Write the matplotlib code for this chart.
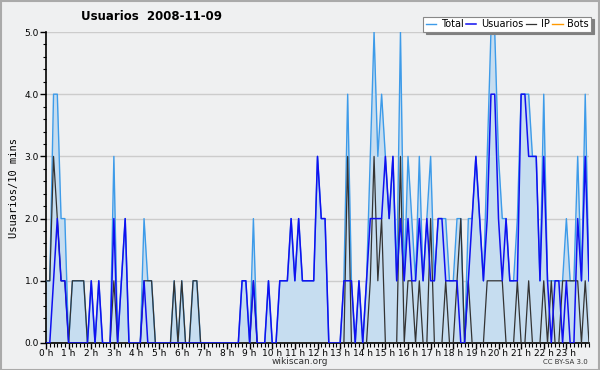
import numpy as np
import matplotlib
matplotlib.use("Agg")
import matplotlib.pyplot as plt
from matplotlib.ticker import MultipleLocator, FixedLocator
from matplotlib.patches import Rectangle

# 10-minute slots, 0h .. 24h
TOTAL = [1, 1, 4, 4, 2, 2, 0, 1, 1, 1,
         1, 0, 1, 0, 1, 0, 0, 0, 3, 0,
         1, 2, 0, 0, 0, 0, 2, 1, 1, 0,
         0, 0, 0, 0, 1, 0, 1, 0, 0, 1,
         1, 0, 0, 0, 0, 0, 0, 0, 0, 0,
         0, 0, 1, 1, 0, 2, 0, 0, 0, 1,
         0, 0, 1, 1, 1, 2, 1, 2, 1, 1,
         1, 1, 3, 2, 2, 0, 0, 0, 0, 1,
         4, 1, 0, 1, 0, 1, 3, 5, 3, 4,
         3, 2, 3, 1, 5, 1, 3, 2, 1, 3,
         1, 2, 3, 1, 2, 2, 2, 1, 1, 2,
         2, 0, 2, 2, 3, 2, 1, 3, 5, 5,
         3, 2, 2, 1, 1, 2, 4, 4, 4, 3,
         3, 1, 4, 1, 1, 1, 1, 1, 2, 1,
         1, 3, 1, 4, 1]
USUARIOS = [0, 0, 1, 2, 1, 1, 0, 0, 0, 0,
            0, 0, 1, 0, 1, 0, 0, 0, 2, 0,
            1, 2, 0, 0, 0, 0, 1, 0, 0, 0,
            0, 0, 0, 0, 0, 0, 0, 0, 0, 0,
            0, 0, 0, 0, 0, 0, 0, 0, 0, 0,
            0, 0, 1, 1, 0, 1, 0, 0, 0, 1,
            0, 0, 1, 1, 1, 2, 1, 2, 1, 1,
            1, 1, 3, 2, 2, 0, 0, 0, 0, 1,
            1, 1, 0, 1, 0, 1, 2, 2, 2, 2,
            3, 2, 3, 1, 2, 1, 2, 1, 1, 2,
            1, 2, 1, 1, 2, 2, 1, 1, 1, 1,
            0, 0, 1, 2, 3, 2, 1, 2, 4, 4,
            2, 1, 2, 1, 1, 1, 4, 4, 3, 3,
            3, 1, 3, 1, 0, 1, 1, 0, 1, 0,
            0, 2, 1, 3, 1]
IP = [1, 1, 3, 2, 1, 1, 0, 1, 1, 1,
      1, 0, 0, 0, 0, 0, 0, 0, 1, 0,
      0, 0, 0, 0, 0, 0, 1, 1, 1, 0,
      0, 0, 0, 0, 1, 0, 1, 0, 0, 1,
      1, 0, 0, 0, 0, 0, 0, 0, 0, 0,
      0, 0, 0, 0, 0, 1, 0, 0, 0, 0,
      0, 0, 0, 0, 0, 0, 0, 0, 0, 0,
      0, 0, 0, 0, 0, 0, 0, 0, 0, 0,
      3, 0, 0, 0, 0, 0, 1, 3, 1, 2,
      0, 0, 0, 0, 3, 0, 1, 1, 0, 1,
      0, 0, 2, 0, 0, 0, 1, 0, 0, 1,
      2, 0, 1, 0, 0, 0, 0, 1, 1, 1,
      1, 1, 0, 0, 0, 1, 0, 0, 1, 0,
      0, 0, 1, 0, 1, 0, 0, 1, 1, 1,
      1, 1, 0, 1, 0]
BOTS = [0] * len(TOTAL)

HOUR_LABELS = [f"{h} h" for h in range(24)]

C_TOTAL = "#3d9be9"
C_FILL = "#c6ddf0"
C_USR = "#1010f0"
C_IP = "#333333"
C_BOTS = "#ff9900"
BG = "#eff0f1"

x = np.arange(len(TOTAL)) / 6.0

fig = plt.figure(figsize=(6.0, 3.7), dpi=100, facecolor=BG)
ax = fig.add_axes([46 / 600, 27 / 370, 543 / 600, 311 / 370])
ax.set_facecolor(BG)

ax.fill_between(x, TOTAL, 0, color=C_FILL, lw=0, zorder=1)
ax.plot(x, BOTS, color=C_BOTS, lw=1, zorder=2, label="Bots")
ax.plot(x, TOTAL, color=C_TOTAL, lw=1, zorder=3, label="Total")
ax.plot(x, IP, color=C_IP, lw=0.9, zorder=4, label="IP")
ax.plot(x, USUARIOS, color=C_USR, lw=1.1, zorder=5, label="Usuarios")

ax.set_xlim(0, 24)
ax.set_ylim(0, 5)

ax.yaxis.set_minor_locator(MultipleLocator(0.2))
ax.set_yticks(range(6))
ax.set_yticklabels([f"{v:.1f}" for v in range(6)], fontsize=6.5)
ax.set_xticks(range(24))
ax.set_xticklabels(HOUR_LABELS, fontsize=6.5)
ax.xaxis.set_minor_locator(FixedLocator(x))
ax.tick_params(axis="x", which="major", length=4, width=1, pad=0, colors="black")
ax.tick_params(axis="x", which="minor", length=3, width=0.8)
ax.tick_params(axis="y", which="major", length=4, width=1, pad=1)
ax.tick_params(axis="y", which="minor", length=2, width=0.8)

ax.grid(axis="y", color="#cccccc", lw=1, zorder=0)
ax.set_axisbelow(True)
for s in ["top", "right"]:
    ax.spines[s].set_visible(False)
ax.spines["left"].set_linewidth(1.2)
ax.spines["bottom"].set_linewidth(1.2)

ax.set_ylabel("Usuarios/10 mins", fontsize=7.5, family="DejaVu Sans Mono", labelpad=4)

fig.text(0.252, 0.956, "Usuarios  2008-11-09", fontsize=8.5, fontweight="bold",
         ha="center", va="center")
fig.text(0.5, 0.022, "wikiscan.org", fontsize=6.5, ha="center", va="center", color="#333333")
fig.text(0.98, 0.022, "CC BY-SA 3.0", fontsize=5, ha="right", va="center", color="#333333")

h, l = ax.get_legend_handles_labels()
order = [l.index(n) for n in ["Total", "Usuarios", "IP", "Bots"]]
leg = fig.legend([h[i] for i in order], [l[i] for i in order], ncol=4,
                 loc="upper right", bbox_to_anchor=(0.985, 0.955),
                 fontsize=7, frameon=True, fancybox=False, handlelength=1.1,
                 handletextpad=0.45, columnspacing=0.25, borderpad=0.25,
                 borderaxespad=0, shadow={"color": "#808080", "alpha": 1})
leg.get_frame().set_edgecolor("#888888")
leg.get_frame().set_facecolor("white")
leg.get_frame().set_linewidth(0.8)

fig.patches.append(Rectangle((0.001, 0.001), 0.997, 0.997, transform=fig.transFigure,
                             fill=False, edgecolor="#aaaaaa", lw=1.5))

fig.savefig("out.png", dpi=100, facecolor=BG)
